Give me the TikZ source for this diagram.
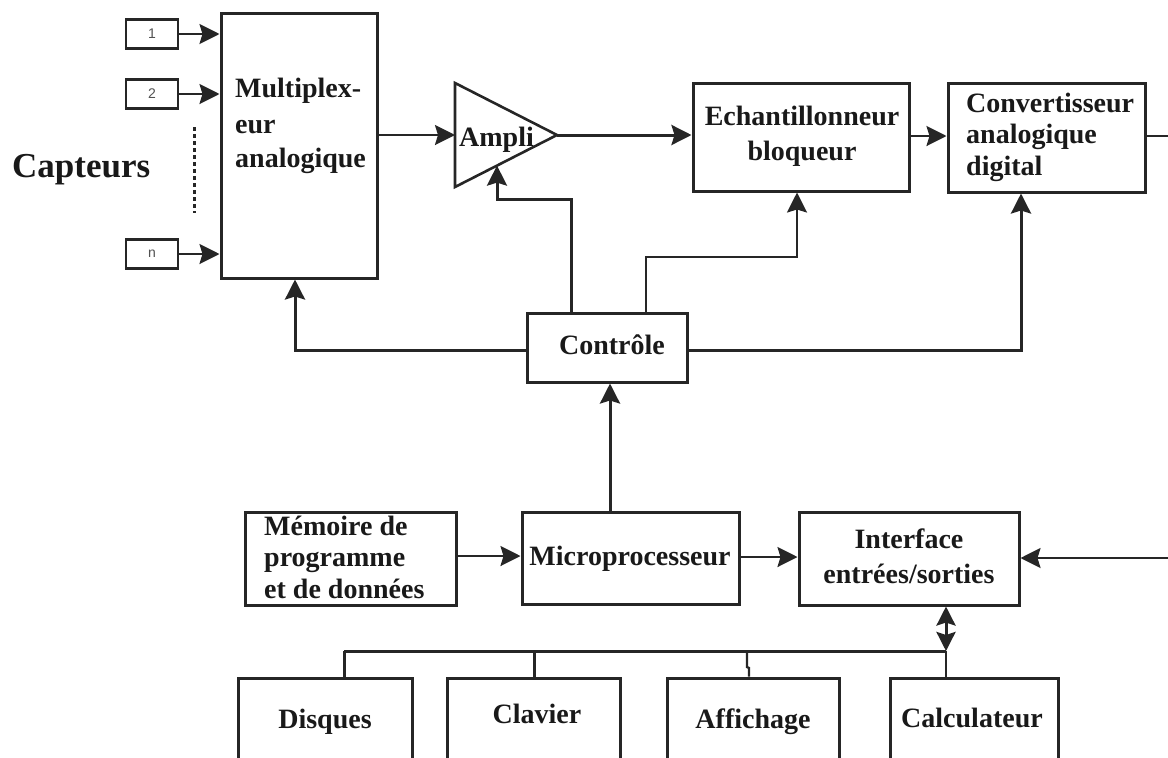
\documentclass[tikz,border=0pt]{standalone}
\usepackage{fontspec}
\setmainfont{Liberation Serif}
\setsansfont{Liberation Sans}
\usetikzlibrary{arrows.meta,fit}
\definecolor{ink}{RGB}{38,38,38}
\tikzset{
  box/.style={draw=ink, line width=3pt, inner sep=0pt},
  smallbox/.style={draw=ink, line width=2.6pt, inner sep=0pt, minimum width=52pt, minimum height=29pt,
    font=\sffamily\fontsize{14}{16}\selectfont, text=ink!80},
  conn/.style={draw=ink, line width=3pt},
  thinconn/.style={draw=ink, line width=2.4pt},
  tip/.style={Stealth[length=20pt,width=20pt,inset=3pt]},
  head/.style={-{Stealth[length=20pt,width=20pt,inset=3pt]}},
  txt/.style={inner sep=0pt, font=\bfseries\fontsize{28}{34}\selectfont, text=black!90},
}
\begin{document}
\begin{tikzpicture}[x=1pt,y=-1pt]
\useasboundingbox (0,0) rectangle (1168,758);

% sensors
\node[smallbox] (c1) at (152,34) {1};
\node[smallbox] (c2) at (152,94) {2};
\node[smallbox] (cn) at (152,254) {n};
\draw[ink, line width=3pt, dash pattern=on 4pt off 3pt] (194,127) coordinate (dots1) -- (194,213) coordinate (dots2);
\node[txt, anchor=base west, font=\bfseries\fontsize{35}{40}\selectfont] (capt) at (12,177) {Capteurs};

% multiplexer
\node[box, fit={(221,13) (377,278)}] (mux) {};
\node[txt, anchor=base west] (mux1) at (235,97) {Multiplex-};
\node[txt, anchor=base west] (mux2) at (235,133) {eur};
\node[txt, anchor=base west] (mux3) at (235,167) {analogique};
\draw[thinconn, head] (c1.east) -- (c1.east -| mux.west);
\draw[thinconn, head] (c2.east) -- (c2.east -| mux.west);
\draw[thinconn, head] (cn.east) -- (cn.east -| mux.west);

% amplifier
\coordinate (amptop) at (455,83);
\coordinate (ampbot) at (455,187);
\coordinate (amptip) at (557,135);
\coordinate (ampin) at (455,135);
\coordinate (ampctl) at (497,165.6);
\draw[ink, line width=2.6pt, line join=miter] (amptop) -- (amptip) -- (ampbot) -- cycle;
\node[txt, anchor=base west] (amptxt) at (459,146) {Ampli};
\draw[thinconn, head] (mux.east |- ampin) -- (ampin);

% sample and hold, converter
\node[box, fit={(693,83) (909,191)}] (ech) {};
\node[txt, anchor=base] (ech1) at (802,125) {Echantillonneur};
\node[txt, anchor=base] (ech2) at (802,160) {bloqueur};
\node[box, fit={(948,83) (1145,192)}] (can) {};
\node[txt, anchor=base west] (can1) at (966,112) {Convertisseur};
\node[txt, anchor=base west] (can2) at (966,143) {analogique};
\node[txt, anchor=base west] (can3) at (966,175) {digital};
\coordinate (canout) at (1168,136);
\draw[conn, head] (amptip) -- (amptip -| ech.west);
\draw[thinconn, head] (ech.east |- canout) -- (can.west |- canout);
\draw[thinconn] (can.east |- canout) -- (canout);

% control unit
\node[box, fit={(527,313) (687,382)}] (ctl) {};
\node[txt, anchor=base] (ctltxt) at (612,354) {Contrôle};
\draw[conn, head] (ctl.west |- 0,350) -| (295,0 |- mux.south);
\draw[conn, head] (571,0 |- ctl.north) |- (497,199) -- (ampctl);
\draw[thinconn, head] (646,0 |- ctl.north) |- (797,257) -- (797,0 |- ech.south);
\draw[conn, head] (ctl.east |- 0,350) -| (1021,0 |- can.south);

% processor side
\node[box, fit={(522,512) (739,604)}] (cpu) {};
\node[txt, anchor=base] (cputxt) at (630,565) {Microprocesseur};
\node[box, fit={(245,512) (456,605)}] (mem) {};
\node[txt, anchor=base west] (mem1) at (264,535) {Mémoire de};
\node[txt, anchor=base west] (mem2) at (264,566) {programme};
\node[txt, anchor=base west] (mem3) at (264,598) {et de données};
\node[box, fit={(799,512) (1019,605)}] (io) {};
\node[txt, anchor=base] (io1) at (909,548) {Interface};
\node[txt, anchor=base] (io2) at (909,583) {entrées/sorties};
\coordinate (ioin) at (1168,558);
\draw[conn, head] (610,0 |- cpu.north) -- (610,0 |- ctl.south);
\draw[thinconn, head] (mem.east |- 0,556) -- (cpu.west |- 0,556);
\draw[thinconn, head] (cpu.east |- 0,557) -- (io.west |- 0,557);
\draw[thinconn, head] (ioin) -- (io.east |- ioin);

% peripherals bus
\coordinate (busl) at (344,651);
\coordinate (busr) at (946,651);
\draw[conn, {Stealth[length=19pt,width=19pt,inset=3pt]}-{Stealth[length=19pt,width=19pt,inset=3pt]}]
  (946,0 |- io.south) -- (busr);
\draw[conn] (busl) -- (busr);
\node[box, fit={(238,678) (412,759)}] (disk) {};
\node[box, fit={(447,678) (620,759)}] (kbd) {};
\node[box, fit={(667,678) (839,759)}] (disp) {};
\node[box, fit={(890,678) (1058,759)}] (calc) {};
\node[txt, anchor=base] (disktxt) at (325,728) {Disques};
\node[txt, anchor=base] (kbdtxt) at (537,723) {Clavier};
\node[txt, anchor=base] (disptxt) at (753,728) {Affichage};
\node[txt, anchor=base] (calctxt) at (972,727) {Calculateur};
\draw[conn] (busl) -- (busl |- disk.north);
\draw[conn] (534,651) -- (534,0 |- kbd.north);
\draw[thinconn] (747,651) -- (747,667) -- (749,668) -- (749,0 |- disp.north);
\draw[thinconn] (busr) -- (busr |- calc.north);
\end{tikzpicture}
\end{document}
